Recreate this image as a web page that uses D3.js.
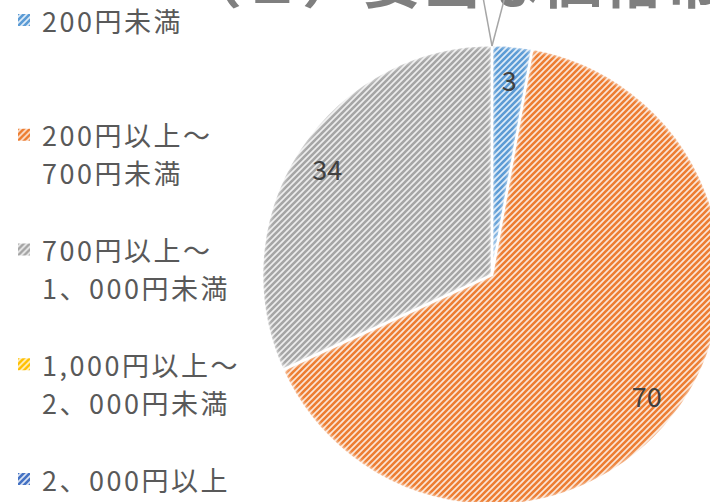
<!DOCTYPE html>
<html>
<head>
<meta charset="utf-8">
<script src="https://cdn.jsdelivr.net/npm/d3@7"></script>
<style>
    body { margin: 0; background: #fff; }
    svg { display: block; font-family: "Noto Sans CJK JP", "Noto Sans", sans-serif; }
</style>
</head>
<body>
<div id="chart"></div>
<script>
// Price bands and answer counts
const categories = [
    '200円未満',
    '200円以上～\n700円未満',
    '700円以上～\n1、000円未満',
    '1,000円以上～\n2、000円未満',
    '2、000円以上'
];
const counts = [3, 70, 34, 0, 0];
const lineColors = ['#5b9bd5', '#ed7d31', '#a5a5a5', '#ffc000', '#4472c4'];
const bgColors = ['#deebf7', '#fbe5d6', '#ededed', '#fff2cc', '#dae3f3'];
const titleText = '（１）妥当な価格帯';

const width = 710;
const height = 502;
const cx = 492, cy = 275, radius = 230;

const svg = d3.select('#chart')
    .append('svg')
    .attr('width', width)
    .attr('height', height);

const defs = svg.append('defs');

// Upward diagonal hatch, one per series
categories.forEach((c, i) => {
    const p = defs.append('pattern')
        .attr('id', 'hatch' + i)
        .attr('patternUnits', 'userSpaceOnUse')
        .attr('width', 6)
        .attr('height', 6);
    p.append('rect').attr('width', 6).attr('height', 6).attr('fill', bgColors[i]);
    p.append('path')
        .attr('d', 'M-1,7 L7,-1 M-2,2 L2,-2 M4,8 L8,4')
        .attr('stroke', lineColors[i])
        .attr('stroke-width', 2.6);
});

// soft edges like the office chart
const soft = defs.append('filter').attr('id', 'soft')
    .attr('x', '-5%').attr('y', '-5%').attr('width', '110%').attr('height', '110%');
soft.append('feMorphology').attr('in', 'SourceAlpha').attr('operator', 'erode').attr('radius', 1.5).attr('result', 'er');
soft.append('feGaussianBlur').attr('in', 'er').attr('stdDeviation', 2).attr('result', 'bl');
soft.append('feComposite').attr('in', 'SourceGraphic').attr('in2', 'bl').attr('operator', 'in');

// Title (mostly cut off at the top)
svg.append('text')
    .attr('x', 182)
    .attr('y', 3)
    .attr('fill', '#7f7f7f')
    .style('font-size', '60px')
    .style('font-weight', 'bold')
    .text(titleText);

const pie = d3.pie().sort(null).value(d => d);
const arcs = pie(counts);

const arc = d3.arc().innerRadius(0).outerRadius(radius);
const labelArc = d3.arc().innerRadius(196).outerRadius(196);

const g = svg.append('g').attr('transform', `translate(${cx},${cy})`);

g.selectAll('.slice')
    .data(arcs.filter(d => d.value > 0))
    .enter()
    .append('path')
    .attr('class', 'slice')
    .attr('d', arc)
    .attr('fill', d => `url(#hatch${d.index})`)
    .attr('stroke', '#fff')
    .attr('stroke-width', 2.5)
    .attr('filter', 'url(#soft)');

// leader lines for the zero slices (their labels sit above the visible area)
const zeroDx = [-14, 20];
arcs.filter(d => d.value === 0).forEach((d, k) => {
    const [x0, y0] = [Math.sin(d.startAngle) * (radius - 1), -Math.cos(d.startAngle) * (radius - 1)];
    g.append('line')
        .attr('x1', x0).attr('y1', y0)
        .attr('x2', x0 + zeroDx[k]).attr('y2', -cy - 30)
        .attr('stroke', '#a6a6a6')
        .attr('stroke-width', 1.5);
});

g.selectAll('.label')
    .data(arcs.filter(d => d.value > 0))
    .enter()
    .append('text')
    .attr('class', 'label')
    .attr('transform', d => `translate(${labelArc.centroid(d)})`)
    .attr('text-anchor', 'middle')
    .attr('dominant-baseline', 'central')
    .attr('fill', '#404040')
    .style('font-size', '27px')
    .text(d => d.value);

// Legend
const ly = d3.scalePoint().domain(categories).range([20, 479]);

const legend = svg.selectAll('.legend')
    .data(categories)
    .enter()
    .append('g')
    .attr('class', 'legend')
    .attr('transform', d => `translate(0,${ly(d)})`);

legend.append('rect')
    .attr('x', 18)
    .attr('y', -6)
    .attr('width', 12)
    .attr('height', 12)
    .attr('fill', (d, i) => `url(#hatch${i})`);

legend.append('text')
    .attr('x', 42)
    .attr('fill', '#595959')
    .style('font-size', '27px')
    .style('letter-spacing', '2.5px')
    .selectAll('tspan')
    .data(d => d.split('\n'))
    .enter()
    .append('tspan')
    .attr('x', 42)
    .attr('y', (d, i) => i * 38)
    .attr('dominant-baseline', 'central')
    .text(d => d);
</script>
</body>
</html>
